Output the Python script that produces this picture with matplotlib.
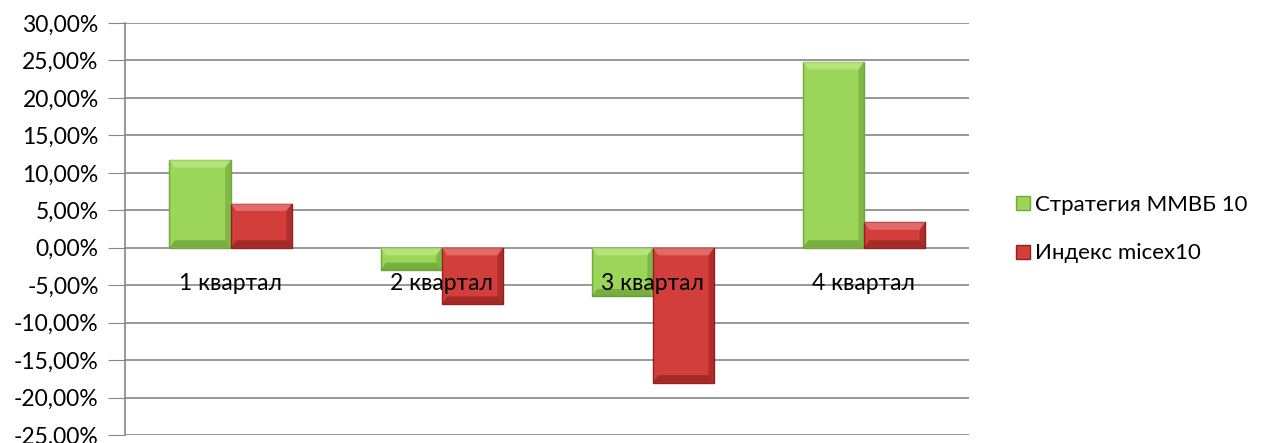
import matplotlib.pyplot as plt
import numpy as np
from matplotlib.patches import Polygon

plt.rcParams['font.family'] = ['Lato', 'DejaVu Sans']

# data (percent)
quarters = ['1 квартал', '2 квартал', '3 квартал', '4 квартал']
strategy = [11.7, -3.0, -6.5, 24.8]
index_micex = [5.9, -7.5, -18.0, 3.4]
series_names = ['Стратегия ММВБ 10', 'Индекс micex10']
yticks = np.arange(-25, 31, 5)

green, green_edge = '#9BD65A', '#72A83A'
red, red_edge = '#D23E3B', '#8E2320'

fig = plt.figure(figsize=(12.64, 4.43), dpi=100)
ax = fig.add_axes([0.099, 0.018, 0.668, 0.930])

x = np.arange(len(quarters))
w = 0.29
b1 = ax.bar(x - w / 2, strategy, w, color=green, edgecolor=green_edge, linewidth=1.0, zorder=3, label=series_names[0])
b2 = ax.bar(x + w / 2, index_micex, w, color=red, edgecolor=red_edge, linewidth=1.0, zorder=3, label=series_names[1])


def bevel(bars, light, dark):
    # fake the excel bevel: lighter top strip, darker side strips
    for p in bars:
        x0, y0 = p.get_x(), p.get_y()
        bw, bh = p.get_width(), p.get_height()
        y1 = y0 + bh
        lo, hi = min(y0, y1), max(y0, y1)
        dx = bw * 0.09
        dy = min(1.0, (hi - lo) / 3)
        ax.add_patch(Polygon([[x0, hi], [x0 + bw, hi], [x0 + bw - dx, hi - dy], [x0 + dx, hi - dy]],
                             closed=True, color=light, alpha=0.6, lw=0, zorder=4))
        ax.add_patch(Polygon([[x0 + bw, hi], [x0 + bw, lo], [x0 + bw - dx, lo + dy], [x0 + bw - dx, hi - dy]],
                             closed=True, color=dark, alpha=0.35, lw=0, zorder=4))
        ax.add_patch(Polygon([[x0, lo], [x0 + bw, lo], [x0 + bw - dx, lo + dy], [x0 + dx, lo + dy]],
                             closed=True, color=dark, alpha=0.45, lw=0, zorder=4))


bevel(b1, '#C8F090', '#4F7F22')
bevel(b2, '#F08A86', '#6E1010')

ax.set_xlim(-0.5, len(quarters) - 0.5)
ax.set_ylim(-25, 30)
ax.set_yticks(yticks)
ax.set_yticklabels([('%.2f%%' % v).replace('.', ',') for v in yticks], fontsize=16.5)
ax.yaxis.grid(True, color='#868686', linewidth=1.2, zorder=0)
ax.tick_params(axis='y', length=12, color='#868686', pad=7)
ax.set_xticks([])

for s in ['top', 'right', 'bottom']:
    ax.spines[s].set_visible(False)
ax.spines['left'].set_color('#868686')
ax.spines['left'].set_linewidth(1.2)

# category labels just below the zero line
for xi, q in zip(x, quarters):
    ax.text(xi, -4.8, q, ha='center', va='center', fontsize=16.5, zorder=5)

leg = ax.legend(loc='center left', bbox_to_anchor=(1.045, 0.5), frameon=False, fontsize=16,
                handlelength=0.6, handleheight=0.6, handletextpad=0.25, labelspacing=1.3,
                borderaxespad=0)

fig.savefig('out.png', dpi=100)
